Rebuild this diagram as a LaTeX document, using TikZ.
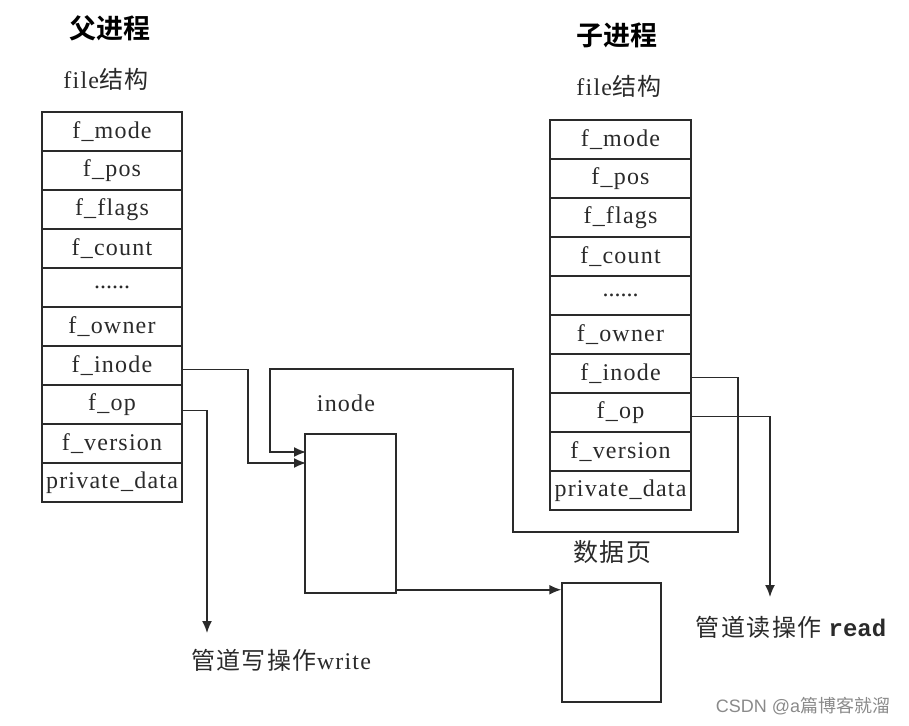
\documentclass[tikz,border=0pt]{standalone}
\usepackage{fontspec}
\setmainfont{Liberation Serif}[LetterSpace=5]
\newfontfamily\cjk{Noto Sans CJK SC}[LetterSpace=6]
\newfontfamily\cjkplain{Noto Sans CJK SC}
\newfontfamily\cjkb{Noto Sans CJK SC Bold}
\newfontfamily\monob{Liberation Mono}[BoldFont={Liberation Mono Bold}]
\newfontfamily\sansf{Liberation Sans}
\usetikzlibrary{arrows.meta}
\definecolor{linec}{HTML}{2A2A2A}
\definecolor{txt}{HTML}{2A2A2A}
\definecolor{wm}{HTML}{8A8A8A}
\newcommand\rowdots{\raisebox{-3pt}{.\kern0pt.\kern0pt.\kern0pt.\kern0pt.\kern0pt.}}
\begin{document}
\begin{tikzpicture}[x=1pt,y=-1pt,
  field/.style={draw=linec, line width=1.5pt, minimum width=140pt, minimum height=39pt,
    inner sep=0pt, font=\fontsize{24}{25}\selectfont, text=txt},
  box/.style={draw=linec, line width=1.5pt, inner sep=0pt},
  conn/.style={draw=linec, line width=1.5pt},
  arr/.style={conn, -{Latex[length=12pt,width=10pt]}},
  lbl/.style={inner sep=0pt, text=txt, font=\fontsize{24}{25}\selectfont},
  head/.style={inner sep=0pt, text=black, font=\fontsize{27}{29}\selectfont\cjkb}
]
\useasboundingbox (0,0) rectangle (909,725);
% headings
\node[head] (hp) at (110,28) {父进程};
\node[head] (hc) at (617,35) {子进程};
\node[lbl] (fl) at (106,79) {file{\cjk 结构}};
\node[lbl] (fr) at (619,86) {file{\cjk 结构}};
% left table
\foreach \t [count=\i] in {f\_mode,f\_pos,f\_flags,f\_count,\rowdots,f\_owner,f\_inode,f\_op,f\_version,private\_data}
  \node[field] (L\i) at (112,{112+39*(\i-0.5)}) {\t};
% right table
\foreach \t [count=\i] in {f\_mode,f\_pos,f\_flags,f\_count,\rowdots,f\_owner,f\_inode,f\_op,f\_version,private\_data}
  \node[field, minimum width=141pt] (R\i) at (620.5,{120+39*(\i-0.5)}) {\t};
% inode box and data page
\node[lbl] (inl) at (346,403) {inode};
\node[box, minimum width=91pt, minimum height=159pt] (inode) at (350.5,513.5) {};
\node[lbl, font=\fontsize{25}{26}\selectfont\cjk] (dl) at (612,552) {数据页};
\node[box, minimum width=99pt, minimum height=119pt] (data) at (611.5,642.5) {};
% bottom labels
\node[lbl] (wl) at (281,660) {{\cjk 管道写操作}write};
\node[lbl] (rl) at (791,627) {{\cjk 管道读操作} {\monob\bfseries read}};
\node[inner sep=0pt, text=wm, font=\fontsize{18}{20}\selectfont\sansf] (wmk) at (803,706) {CSDN @a{\cjkplain 篇博客就溜}};
% connector coordinates
\coordinate (inA) at (306,452);
\coordinate (inB) at (306,463);
\coordinate (wEnd) at (207,633);
\coordinate (rEnd) at (770,597);
% parent f_inode -> inode
\draw[arr] ([yshift=-4pt]L7.east) -- (248,369.5) -- (248,463) -- (inB);
% child f_inode -> inode
\draw[arr] ([yshift=-4pt]R7.east) -- (738,377.5) -- (738,532) -- (513,532) -- (513,369) -- (270,369) -- (270,452) -- (inA);
% parent f_op -> write
\draw[arr] ([yshift=-6pt]L8.east) -- (207,410.5) -- (wEnd);
% child f_op -> read
\draw[arr] ([yshift=-4pt]R8.east) -- (770,416.5) -- (rEnd);
% inode -> data page
\path ([yshift=4pt]inode.south east) coordinate (p5);
\draw[arr] (p5) -- (p5 -| data.west);
\end{tikzpicture}
\end{document}
